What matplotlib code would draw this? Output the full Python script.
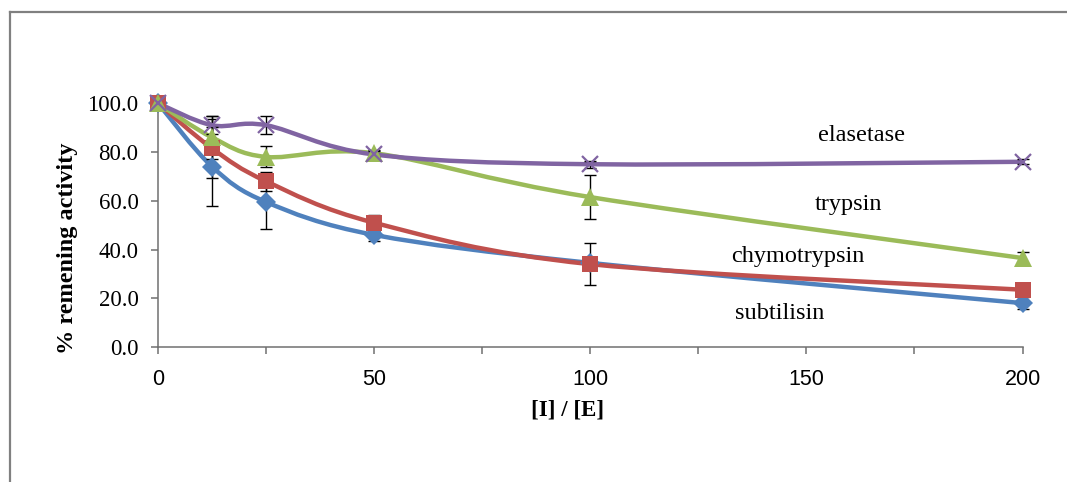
import matplotlib.pyplot as plt
import numpy as np
from matplotlib.lines import Line2D
from matplotlib.patches import PathPatch
from matplotlib.path import Path
from matplotlib.ticker import FormatStrFormatter, MultipleLocator

# inhibitor / enzyme molar ratio
ratio = [0, 12.5, 25, 50, 100, 200]

subtilisin = [100, 74, 59.5, 46, 34.5, 18]
subtilisin_err = [0, 16.3, 11, 2.6, 2, 2.5]
chymotrypsin = [100, 81.5, 68, 51, 34, 23.5]
chymotrypsin_err = [0, 12, 4, 3.3, 8.5, 1]
trypsin = [100, 86, 78, 79.5, 61.5, 36.5]
trypsin_err = [0, 8.7, 4.3, 1.5, 9, 2.3]
elastase = [100, 91, 91, 79, 75, 76]
elastase_err = [0, 3.6, 3.7, 1.5, 1.5, 1]

series = [
    ("subtilisin", subtilisin, subtilisin_err, "#4F81BD", "D", 10, (143.8, 13.9)),
    ("chymotrypsin", chymotrypsin, chymotrypsin_err, "#C0504D", "s", 12, (148.1, 37.1)),
    ("trypsin", trypsin, trypsin_err, "#9BBB59", "^", 12.5, (159.7, 58.4)),
    ("elasetase", elastase, elastase_err, "#8064A2", "x", 11.5, (162.7, 86.9)),
]

SERIF = "Liberation Serif"
SANS = "Liberation Sans"
AXIS_GREY = "#707070"


def smooth_path(x, y):
    """Bezier path through the points, same smoothing as a spreadsheet 'smoothed line'."""
    pts = np.column_stack([x, y]).astype(float)
    ext = np.vstack([pts[0], pts, pts[-1]])
    verts = [pts[0]]
    codes = [Path.MOVETO]
    for i in range(len(pts) - 1):
        p0, p1, p2, p3 = ext[i], ext[i + 1], ext[i + 2], ext[i + 3]
        verts += [p1 + (p2 - p0) / 6, p2 - (p3 - p1) / 6, p2]
        codes += [Path.CURVE4] * 3
    return Path(verts, codes)


fig = plt.figure(figsize=(10.67, 4.82), dpi=100)
ax = fig.add_axes([0.1481, 0.2801, 0.8102, 0.5056])

for name, vals, err, color, marker, ms, (tx, ty) in series:
    ax.add_patch(PathPatch(smooth_path(ratio, vals), fill=False, edgecolor=color,
                           lw=3.2, capstyle="round", joinstyle="round", zorder=2))
    ax.errorbar(ratio, vals, yerr=err, fmt="none", ecolor="black", elinewidth=1,
                capsize=4, capthick=1, zorder=3, clip_on=False)
    if marker == "x":
        ax.plot(ratio, vals, ls="none", marker=marker, ms=ms, mew=1.6,
                color=color, zorder=4, clip_on=False)
    else:
        ax.plot(ratio, vals, ls="none", marker=marker, ms=ms, mew=0,
                color=color, zorder=4, clip_on=False)
    ax.text(tx, ty, name, ha="center", va="center", fontsize=17.5, family=SERIF)

ax.set_xlim(0, 200)
ax.set_ylim(0, 100)
ax.xaxis.set_major_locator(MultipleLocator(50))
ax.xaxis.set_minor_locator(MultipleLocator(25))
ax.yaxis.set_major_locator(MultipleLocator(20))
ax.yaxis.set_major_formatter(FormatStrFormatter("%.1f"))

for side in ("top", "right"):
    ax.spines[side].set_visible(False)
for side in ("left", "bottom"):
    ax.spines[side].set_color(AXIS_GREY)
    ax.spines[side].set_linewidth(1.1)

ax.tick_params(which="both", direction="out", length=5, width=1.1, color=AXIS_GREY)
ax.tick_params(axis="x", which="major", pad=11)
ax.tick_params(axis="y", pad=9)
for lbl in ax.get_xticklabels():
    lbl.set_fontfamily(SANS)
    lbl.set_fontsize(15.5)
for lbl in ax.get_yticklabels():
    lbl.set_fontfamily(SERIF)
    lbl.set_fontsize(16.5)

fig.text(67 / 1067, 1 - 248 / 482, "% remening activity", rotation=90,
         ha="center", va="center", fontsize=17.5, fontweight="bold", family=SERIF)
fig.text(568 / 1067, 1 - 410 / 482, "[I] / [E]", ha="center", va="center",
         fontsize=16.5, fontweight="bold", family=SERIF)

# frame lines along the top and left edge of the figure
fig.add_artist(Line2D([9.5 / 1067, 9.5 / 1067], [0, 1 - 11.5 / 482],
                      transform=fig.transFigure, color="#808080", lw=1.6))
fig.add_artist(Line2D([9.5 / 1067, 1], [1 - 11.5 / 482, 1 - 11.5 / 482],
                      transform=fig.transFigure, color="#808080", lw=1.6))

fig.savefig("out.png", dpi=100)
